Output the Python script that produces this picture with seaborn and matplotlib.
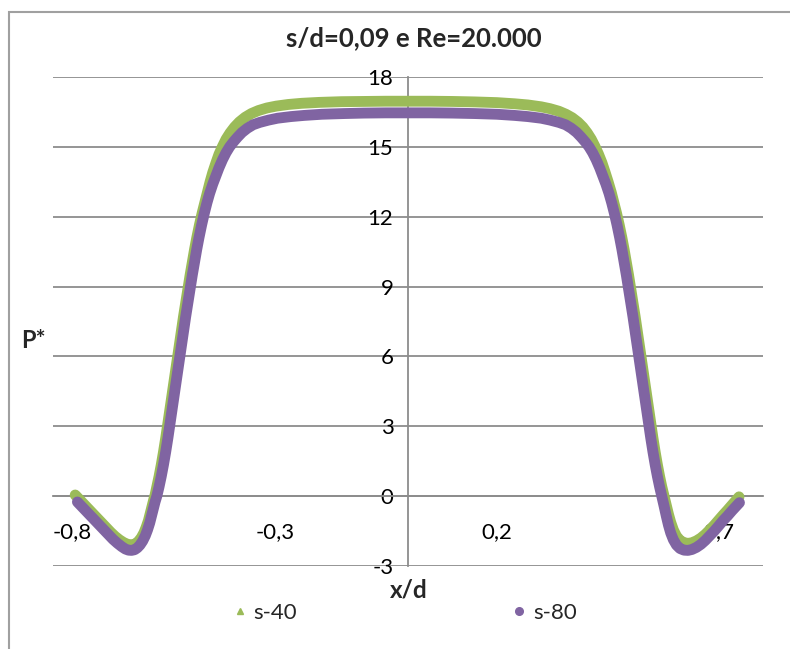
import matplotlib
matplotlib.use("Agg")
import matplotlib.pyplot as plt
from matplotlib.lines import Line2D
from matplotlib.patches import Rectangle
import pandas as pd
import seaborn as sns

# Pressure coefficient profiles across the gap
title = "s/d=0,09 e Re=20.000"
series_names = ["s-40", "s-80"]

x_s40 = [-0.75, -0.74, -0.73, -0.72, -0.71, -0.70, -0.69, -0.68, -0.67, -0.66,
         -0.65, -0.641, -0.633, -0.626, -0.619, -0.613, -0.607, -0.601, -0.595, -0.59,
         -0.585, -0.581, -0.577, -0.573, -0.57, -0.566, -0.561, -0.556, -0.551, -0.546,
         -0.541, -0.536, -0.531, -0.526, -0.521, -0.516, -0.511, -0.506, -0.501, -0.496,
         -0.491, -0.486, -0.481, -0.476, -0.47, -0.464, -0.458, -0.452, -0.446, -0.44,
         -0.433, -0.426, -0.418, -0.41, -0.401, -0.391, -0.38, -0.367, -0.353, -0.337,
         -0.318, -0.297, -0.27, -0.24, -0.2, -0.15, -0.1, -0.05, 0.0, 0.05,
         0.1, 0.15, 0.2, 0.24, 0.27, 0.3, 0.32, 0.34, 0.356, 0.37,
         0.383, 0.394, 0.404, 0.413, 0.421, 0.429, 0.437, 0.444, 0.451, 0.458,
         0.464, 0.47, 0.476, 0.482, 0.487, 0.492, 0.497, 0.502, 0.507, 0.512,
         0.517, 0.522, 0.527, 0.532, 0.537, 0.542, 0.547, 0.552, 0.557, 0.562,
         0.567, 0.572, 0.577, 0.582, 0.587, 0.592, 0.598, 0.605, 0.613, 0.622,
         0.631, 0.64, 0.65, 0.66, 0.67, 0.68, 0.69, 0.70, 0.71, 0.72,
         0.73, 0.74, 0.746]
p_s40 = [0.05, -0.15, -0.35, -0.55, -0.75, -0.95, -1.15, -1.35, -1.55, -1.73,
         -1.88, -1.99, -2.06, -2.09, -2.08, -2.03, -1.93, -1.78, -1.57, -1.33,
         -1.05, -0.75, -0.45, -0.15, 0.05, 0.4, 0.85, 1.35, 1.9, 2.5,
         3.15, 3.8, 4.45, 5.1, 5.75, 6.4, 7.05, 7.7, 8.3, 8.9,
         9.5, 10.05, 10.6, 11.1, 11.65, 12.15, 12.6, 13.05, 13.5, 13.9,
         14.3, 14.68, 15.02, 15.33, 15.6, 15.85, 16.07, 16.27, 16.43, 16.56,
         16.67, 16.75, 16.82, 16.87, 16.91, 16.94, 16.95, 16.96, 16.96, 16.96,
         16.95, 16.93, 16.9, 16.85, 16.8, 16.72, 16.64, 16.53, 16.4, 16.25,
         16.06, 15.85, 15.6, 15.33, 15.03, 14.7, 14.32, 13.92, 13.5, 13.05,
         12.6, 12.15, 11.65, 11.1, 10.6, 10.05, 9.5, 8.9, 8.3, 7.7,
         7.05, 6.4, 5.75, 5.1, 4.45, 3.8, 3.15, 2.5, 1.9, 1.35,
         0.85, 0.4, 0.0, -0.4, -0.78, -1.12, -1.45, -1.72, -1.9, -2.0,
         -2.03, -2.0, -1.92, -1.8, -1.64, -1.45, -1.25, -1.03, -0.81, -0.6,
         -0.38, -0.16, -0.03]

x_s80 = [-0.745, -0.735, -0.725, -0.715, -0.705, -0.695, -0.685, -0.675, -0.665, -0.655,
         -0.645, -0.637, -0.63, -0.623, -0.616, -0.61, -0.604, -0.598, -0.592, -0.587,
         -0.582, -0.578, -0.574, -0.57, -0.566, -0.561, -0.556, -0.551, -0.546, -0.541,
         -0.536, -0.531, -0.526, -0.521, -0.516, -0.511, -0.506, -0.501, -0.496, -0.491,
         -0.486, -0.481, -0.476, -0.471, -0.465, -0.459, -0.453, -0.447, -0.44, -0.433,
         -0.426, -0.418, -0.41, -0.402, -0.394, -0.384, -0.374, -0.362, -0.349, -0.334,
         -0.314, -0.294, -0.264, -0.234, -0.194, -0.144, -0.1, -0.05, 0.0, 0.05,
         0.1, 0.15, 0.2, 0.24, 0.27, 0.3, 0.32, 0.34, 0.355, 0.368,
         0.38, 0.39, 0.40, 0.408, 0.416, 0.424, 0.432, 0.439, 0.446, 0.453,
         0.459, 0.465, 0.471, 0.477, 0.482, 0.487, 0.492, 0.497, 0.502, 0.507,
         0.512, 0.517, 0.522, 0.527, 0.532, 0.537, 0.542, 0.547, 0.552, 0.557,
         0.562, 0.567, 0.572, 0.577, 0.582, 0.587, 0.592, 0.598, 0.605, 0.613,
         0.622, 0.631, 0.64, 0.65, 0.66, 0.67, 0.68, 0.69, 0.70, 0.71,
         0.72, 0.73, 0.74, 0.747]
p_s80 = [-0.25, -0.45, -0.65, -0.85, -1.05, -1.25, -1.45, -1.65, -1.85, -2.02,
         -2.17, -2.27, -2.32, -2.33, -2.3, -2.22, -2.1, -1.93, -1.7, -1.45,
         -1.15, -0.85, -0.55, -0.25, 0.0, 0.4, 0.85, 1.35, 1.9, 2.5,
         3.15, 3.8, 4.45, 5.1, 5.75, 6.4, 7.05, 7.7, 8.3, 8.9,
         9.5, 10.05, 10.6, 11.1, 11.65, 12.15, 12.6, 13.0, 13.4, 13.75,
         14.1, 14.45, 14.75, 15.0, 15.2, 15.42, 15.62, 15.8, 15.95, 16.05,
         16.15, 16.23, 16.3, 16.35, 16.4, 16.43, 16.45, 16.46, 16.46, 16.46,
         16.45, 16.43, 16.4, 16.35, 16.3, 16.23, 16.15, 16.05, 15.95, 15.8,
         15.62, 15.42, 15.2, 15.0, 14.75, 14.45, 14.1, 13.75, 13.4, 13.0,
         12.6, 12.15, 11.65, 11.1, 10.6, 10.05, 9.5, 8.9, 8.3, 7.7,
         7.05, 6.4, 5.75, 5.1, 4.45, 3.8, 3.15, 2.5, 1.9, 1.35,
         0.85, 0.4, 0.0, -0.42, -0.85, -1.25, -1.58, -1.87, -2.1, -2.25,
         -2.32, -2.33, -2.29, -2.2, -2.07, -1.9, -1.7, -1.5, -1.28, -1.05,
         -0.85, -0.63, -0.42, -0.28]

x_ticks = [-0.8, -0.3, 0.2, 0.7]
x_ticklabels = ["-0,8", "-0,3", "0,2", "0,7"]
y_ticks = [-3, 0, 3, 6, 9, 12, 15, 18]

colors = {"s-40": "#9BBB59", "s-80": "#8064A2"}

df = pd.concat([
    pd.DataFrame({"x": x_s40, "P": p_s40, "serie": "s-40"}),
    pd.DataFrame({"x": x_s80, "P": p_s80, "serie": "s-80"}),
], ignore_index=True)

sns.set_theme(style="white")
plt.rcParams["font.family"] = ["Lato", "DejaVu Sans"]

fig = plt.figure(figsize=(7.9, 6.49), dpi=100)
ax = fig.add_axes([53 / 790, 1 - 566 / 649, 710 / 790, 489 / 649])

sns.lineplot(data=df, x="x", y="P", hue="serie", palette=colors,
             hue_order=series_names, sort=False, estimator=None,
             linewidth=7.8, solid_capstyle="round", solid_joinstyle="round",
             legend=False, ax=ax, zorder=3)

grid_col = "#8C8C8C"
ax.set_xlim(-0.8, 0.8)
ax.set_ylim(-3, 18)
ax.set_yticks(y_ticks)
ax.set_yticklabels([str(v) for v in y_ticks])
ax.set_xticks(x_ticks)
ax.set_xticklabels(x_ticklabels)
ax.yaxis.grid(True, color=grid_col, linewidth=1.3)
ax.xaxis.grid(False)
ax.set_axisbelow(True)

for side in ["top", "right"]:
    ax.spines[side].set_visible(False)
ax.spines["left"].set_position(("data", 0))
ax.spines["bottom"].set_position(("data", 0))
for side in ["left", "bottom"]:
    ax.spines[side].set_color(grid_col)
    ax.spines[side].set_linewidth(1.3)
    ax.spines[side].set_zorder(1)

ax.tick_params(axis="x", direction="out", length=5, width=1.3, color=grid_col,
               pad=14, labelsize=16, labelcolor="black")
ax.tick_params(axis="y", direction="out", length=4.5, width=1.3, color=grid_col,
               pad=6, labelsize=16, labelcolor="black")
ax.set_xlabel("")
ax.set_ylabel("")

fig.text(414 / 790, 1 - 38 / 649, title, ha="center", va="center",
         fontsize=18.5, fontweight="bold")
fig.text(33 / 790, 1 - 340 / 649, "P*", ha="center", va="center",
         fontsize=17, fontweight="bold")
fig.text(409 / 790, 1 - 590 / 649, "x/d", ha="center", va="center",
         fontsize=17.5, fontweight="bold")

handles = [
    Line2D([], [], linestyle="none", marker="^", markersize=5,
           color=colors["s-40"], label="s-40"),
    Line2D([], [], linestyle="none", marker="o", markersize=5.5,
           color=colors["s-80"], label="s-80"),
]
fig.legend(handles=handles, loc="center", bbox_to_anchor=(404 / 790, 1 - 613 / 649),
           ncol=2, frameon=False, fontsize=16, handlelength=0.8,
           handletextpad=0.2, columnspacing=9.6)

fig.add_artist(Rectangle((9 / 790, -0.1), 1.1, 1 - 12 / 649 + 0.1,
                         transform=fig.transFigure, fill=False,
                         edgecolor="#A0A0A0", linewidth=1.5))

# keep the leftmost x label inside the plotting area
fig.canvas.draw()
for tick in ax.xaxis.get_major_ticks()[:1]:
    tick.label1.set_horizontalalignment("left")
    tick.label1.set_x(tick.label1.get_position()[0])

fig.savefig("out.png", dpi=100)
